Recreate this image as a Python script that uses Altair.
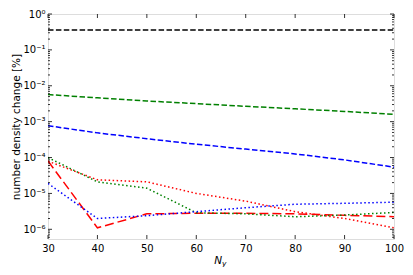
import altair as alt
import pandas as pd

ny = [30, 40, 50, 60, 70, 80, 90, 100]

black_dashed = [0.36, 0.36, 0.36, 0.36, 0.36, 0.36, 0.36, 0.36]
green_dashed = [5.7e-3, 4.6e-3, 3.76e-3, 3.18e-3, 2.68e-3, 2.28e-3, 1.93e-3, 1.6e-3]
blue_dashed = [7.7e-4, 4.87e-4, 3.35e-4, 2.35e-4, 1.72e-4, 1.26e-4, 8.6e-5, 5.4e-5]
red_dashed = [8.0e-5, 1.1e-6, 2.7e-6, 2.8e-6, 2.8e-6, 2.7e-6, 2.45e-6, 2.25e-6]
red_dotted = [7.9e-5, 2.4e-5, 2.1e-5, 1.0e-5, 6.1e-6, 3.1e-6, 2.0e-6, 1.1e-6]
green_dotted = [1.0e-4, 2.1e-5, 1.4e-5, 2.9e-6, 2.7e-6, 2.24e-6, 2.5e-6, 2.95e-6]
blue_dotted = [1.9e-5, 2.0e-6, 2.4e-6, 3.1e-6, 4.0e-6, 5.0e-6, 5.3e-6, 5.7e-6]

x_ticks = [30, 40, 50, 60, 70, 80, 90, 100]
y_decades = [1e0, 1e-1, 1e-2, 1e-3, 1e-4, 1e-5, 1e-6]
y_minor_all = [k * 10.0 ** d for d in range(-7, 0) for k in range(2, 10)]

PL, PT, PR, PB = 40, 6, 11, 28
W, H = 346, 225
ymin = 10 ** -6.27
y_minor = [v for v in y_minor_all if ymin <= v <= 1]

xs = alt.Scale(domain=[30, 100], nice=False, zero=False)
ys = alt.Scale(type="log", domain=[ymin, 1], nice=False)

series = [
    ("k--", black_dashed, "#000000", [5.5, 2.4]),
    ("g--", green_dashed, "#008000", [5.5, 2.4]),
    ("b--", blue_dashed, "#0000ff", [5.5, 2.4]),
    ("r--", red_dashed, "#ff0000", [9, 4]),
    ("r:", red_dotted, "#ff0000", [1.5, 2.5]),
    ("g:", green_dotted, "#008000", [1.5, 2.5]),
    ("b:", blue_dotted, "#0000ff", [1.5, 2.5]),
]

label_expr = ("'10' + ['⁰','⁻¹','⁻²','⁻³','⁻⁴','⁻⁵','⁻⁶','⁻⁷']"
              "[round(-log(datum.value)/LN10)]")

layers = []
first = True
for name, vals, color, dash in series:
    df = pd.DataFrame({"ny": ny, "v": vals})
    if first:
        xenc = alt.X("ny:Q", scale=xs, axis=alt.Axis(
            values=x_ticks, ticks=False, domain=False, grid=False, title=None,
            labelFont="DejaVu Sans", labelFontSize=10, labelColor="black",
            labelPadding=4, labelFlush=False, labelOverlap=False))
        yenc = alt.Y("v:Q", scale=ys, axis=alt.Axis(
            values=y_decades, labelExpr=label_expr, ticks=False, domain=False,
            grid=False, title="number density change [%]",
            titleFont="DejaVu Sans", titleFontSize=10.5, titleFontWeight="normal",
            titleColor="black", titlePadding=1,
            labelFont="DejaVu Sans", labelFontSize=10, labelColor="black",
            labelPadding=3, labelFlush=False, labelOverlap=False))
        first = False
    else:
        xenc = alt.X("ny:Q", scale=xs)
        yenc = alt.Y("v:Q", scale=ys)
    layers.append(alt.Chart(df).mark_line(
        color=color, strokeDash=dash, strokeWidth=1.5, clip=True
    ).encode(x=xenc, y=yenc))

# tick marks (inward, all four sides)
ymaj = pd.DataFrame({"v": y_decades})
ymin_df = pd.DataFrame({"v": y_minor})
xmaj = pd.DataFrame({"ny": x_ticks})


def yticks(df, length):
    a = alt.Chart(df).mark_rule(color="black", strokeWidth=0.8).encode(
        y=alt.Y("v:Q", scale=ys), x=alt.value(0), x2=alt.value(length))
    b = alt.Chart(df).mark_rule(color="black", strokeWidth=0.8).encode(
        y=alt.Y("v:Q", scale=ys), x=alt.value(W - length), x2=alt.value(W))
    return [a, b]


def xticks(df, length):
    a = alt.Chart(df).mark_rule(color="black", strokeWidth=0.8).encode(
        x=alt.X("ny:Q", scale=xs), y=alt.value(H - length), y2=alt.value(H))
    b = alt.Chart(df).mark_rule(color="black", strokeWidth=0.8).encode(
        x=alt.X("ny:Q", scale=xs), y=alt.value(0), y2=alt.value(length))
    return [a, b]


tick_layers = yticks(ymaj, 4) + yticks(ymin_df, 2) + xticks(xmaj, 4)

# x axis title N_y (italic with subscript)
XC = W / 2
tdf = pd.DataFrame({"t": ["N"]})
n_text = alt.Chart(tdf).mark_text(
    font="DejaVu Sans", fontSize=10.5, fontStyle="italic", align="right",
    baseline="alphabetic", color="black"
).encode(text="t:N", x=alt.value(XC + 1), y=alt.value(H + 25))
sdf = pd.DataFrame({"t": ["y"]})
y_text = alt.Chart(sdf).mark_text(
    font="DejaVu Sans", fontSize=7.5, fontStyle="italic", align="left",
    baseline="alphabetic", color="black"
).encode(text="t:N", x=alt.value(XC + 1), y=alt.value(H + 27))

chart = alt.layer(*layers, *tick_layers, n_text, y_text).properties(
    width=W, height=H,
    autosize=alt.AutoSizeParams(type="none"),
    padding={"left": PL, "top": PT, "right": PR, "bottom": PB},
).configure_view(stroke="black", strokeWidth=1.2).configure(background="white")

chart.save("out.html", embed_options={"renderer": "svg", "actions": False})
